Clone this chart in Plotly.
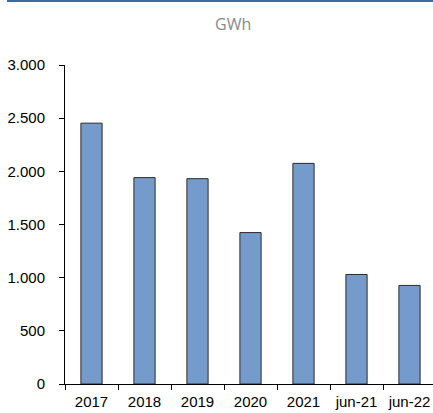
import plotly.graph_objects as go

categories = ["2017", "2018", "2019", "2020", "2021", "jun-21", "jun-22"]
values = [2453, 1941, 1931, 1424, 2075, 1030, 927]
y_ticks = [0, 500, 1000, 1500, 2000, 2500, 3000]

L, T, B = 65, 65, 29
W, H = 433, 413
pw, ph = W - L, H - T - B

fig = go.Figure()
fig.add_trace(go.Bar(
    x=categories, y=values, width=0.4,
    marker=dict(color="#759bcc", line=dict(color="#2b2b2b", width=1)),
))

fig.update_layout(
    width=W, height=H,
    margin=dict(l=L, r=0, t=T, b=B, autoexpand=False),
    paper_bgcolor="white", plot_bgcolor="white",
    separators=",.",
    showlegend=False,
    font=dict(family="Liberation Sans, Arial", size=15, color="#000"),
)
fig.add_annotation(text="GWh", x=(233 - L) / pw, xref="paper", y=(H - B - 24) / ph, yref="paper",
                   xanchor="center", yanchor="middle", showarrow=False,
                   font=dict(family="Open Sans", size=16, color="#8a8a8a"))

fig.add_shape(type="line", xref="paper", yref="paper",
              x0=(7 - L) / pw, x1=(W - L) / pw, y0=(H - B - 1) / ph, y1=(H - B - 1) / ph,
              line=dict(color="#3d6aa5", width=2))

fig.update_xaxes(
    type="category", range=[-0.5, -0.5 + pw / 53], automargin=False,
    showline=True, linecolor="#000", linewidth=1,
    ticks="outside", ticklen=5, tickcolor="#000", tickson="boundaries",
    ticklabelstandoff=4, tickangle=0,
    showgrid=False, tickfont=dict(size=15),
)
fig.update_yaxes(
    range=[0, 3000], tickvals=y_ticks, tickformat=",d", automargin=False,
    showline=True, linecolor="#000", linewidth=1,
    ticks="outside", ticklen=5, tickcolor="#000", ticklabelstandoff=11,
    showgrid=False, zeroline=False, tickfont=dict(size=15),
)

fig.write_html("out.html", config={"displayModeBar": False},
               post_script="document.body.style.margin='0';document.body.style.overflow='hidden';")
